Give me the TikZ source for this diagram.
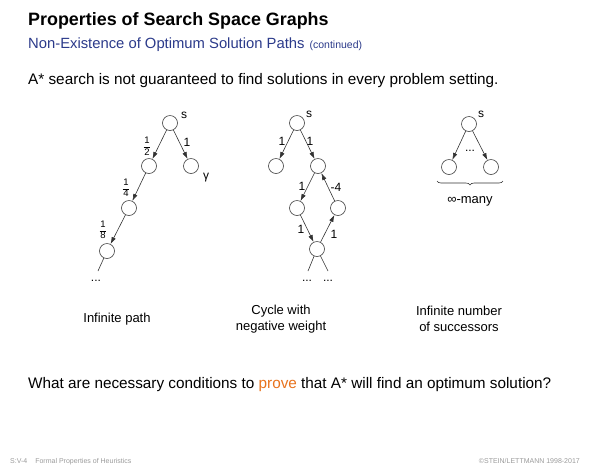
\documentclass[tikz,border=0pt]{standalone}
\usepackage{fontspec}
\setmainfont{Liberation Sans}
\usetikzlibrary{arrows.meta,decorations.pathreplacing}
\definecolor{subblue}{HTML}{2B3A8A}
\definecolor{hlorange}{HTML}{E8731E}
\definecolor{foot}{HTML}{9A9A9A}
\newcommand\fr[2]{\vbox{\fontsize{9.5}{9.5}\selectfont\offinterlineskip\halign{\hfil\kern0.8pt##\kern0.8pt\hfil\cr\strut #1\cr\noalign{\kern0.2pt\hrule height0.5pt\kern1.2pt}#2\cr}}}
\tikzset{
  st/.style={circle,draw=black!75,line width=0.6pt,minimum size=15pt,inner sep=0pt},
  ar/.style={draw=black!80,line width=0.6pt,-{Latex[length=7pt,width=4.5pt]}},
  ln/.style={draw=black!80,line width=0.6pt},
  lbl/.style={font=\fontsize{12}{12}\selectfont,inner sep=0pt},
  captxt/.style={font=\fontsize{13}{16}\selectfont,align=center,inner sep=0pt},
}
\begin{document}
\begin{tikzpicture}[x=1pt,y=-1pt]
\useasboundingbox (0,0) rectangle (600,467);
% headings
\node[anchor=base west,inner sep=0pt,font=\fontsize{17.9}{17.9}\selectfont\bfseries] (title) at (28,25) {Properties of Search Space Graphs};
\node[anchor=base west,inner sep=0pt,font=\fontsize{14.8}{14.8}\selectfont,text=subblue] (sub) at (28,48) {Non-Existence of Optimum Solution Paths\hspace{5pt}{\fontsize{10.5}{10.5}\selectfont(continued)}};
\node[anchor=base west,inner sep=0pt,font=\fontsize{15.3}{15.3}\selectfont] (intro) at (28,84) {A* search is not guaranteed to find solutions in every problem setting.};
% graph 1: infinite path
\node[st] (a0) at (170,123) {};
\node[st] (a1) at (149,166) {};
\node[st] (ag) at (191,166) {};
\node[st] (a2) at (129,208) {};
\node[st] (a3) at (107,251) {};
\coordinate (a4) at (98,271);
\draw[ar] (a0) -- (a1);
\draw[ar] (a0) -- (ag);
\draw[ar] (a1) -- (a2);
\draw[ar] (a2) -- (a3);
\draw[ln] (a3) -- (a4);
\node[lbl] (as) at (184,115) {s};
\node[lbl] (agl) at (206,178) {γ};
\node[lbl] (l12) at (147,146) {\fr{1}{2}};
\node[lbl] (l1a) at (187,142) {1};
\node[lbl] (l14) at (126,188) {\fr{1}{4}};
\node[lbl] (l18) at (103,230) {\fr{1}{8}};
\node[lbl] (adots) at (96,281) {...};
% graph 2: cycle
\node[st] (b0) at (297,123) {};
\node[st] (b1) at (276,166) {};
\node[st] (b2) at (318,166) {};
\node[st] (b3) at (297,208) {};
\node[st] (b4) at (338,208) {};
\node[st] (b5) at (317,249) {};
\coordinate (b6) at (308,271);
\coordinate (b7) at (328,271);
\draw[ar] (b0) -- (b1);
\draw[ar] (b0) -- (b2);
\draw[ar] (b2) -- (b3);
\draw[ar] (b3) -- (b5);
\draw[ar] (b5) -- (b4);
\draw[ar] (b4) -- (b2);
\draw[ln] (b5) -- (b6);
\draw[ln] (b5) -- (b7);
\node[lbl] (bs) at (309,114) {s};
\node[lbl] (m1) at (282,141) {1};
\node[lbl] (m2) at (310,141) {1};
\node[lbl] (m3) at (302,186) {1};
\node[lbl] (m4) at (336,187) {-4};
\node[lbl] (m5) at (301,229) {1};
\node[lbl] (m6) at (334,234) {1};
\node[lbl] (bd1) at (307,281) {...};
\node[lbl] (bd2) at (328,281) {...};
% graph 3: infinitely many successors
\node[st] (c0) at (469,124) {};
\node[st] (c1) at (449,167) {};
\node[st] (c2) at (491,167) {};
\draw[ar] (c0) -- (c1);
\draw[ar] (c0) -- (c2);
\node[lbl] (cs) at (481,114) {s};
\node[lbl] (cd) at (470,151) {...};
\coordinate (br1) at (437,181);
\coordinate (br2) at (503,181);
\draw[ln,decorate,decoration={brace,amplitude=4pt,mirror}] (br1) -- (br2);
\node[captxt] (many) at (470,201) {∞-many};
% captions
\node[captxt] (c1t) at (117,319) {Infinite path};
\node[captxt] (c2t) at (281,319) {Cycle with\\negative weight};
\node[captxt] (c3t) at (459,319) {Infinite number\\of successors};
% question
\node[anchor=base west,inner sep=0pt,font=\fontsize{15.3}{15.3}\selectfont] (q) at (28,388) {What are necessary conditions to \textcolor{hlorange}{prove} that A* will find an optimum solution?};
% footer
\node[anchor=base west,inner sep=0pt,font=\fontsize{7}{7}\selectfont,text=foot] (f1) at (10,463) {S:V-4\hspace{8pt}Formal Properties of Heuristics};
\node[anchor=base east,inner sep=0pt,font=\fontsize{7}{7}\selectfont,text=foot] (f2) at (580,463) {©STEIN/LETTMANN 1998-2017};
\end{tikzpicture}
\end{document}
